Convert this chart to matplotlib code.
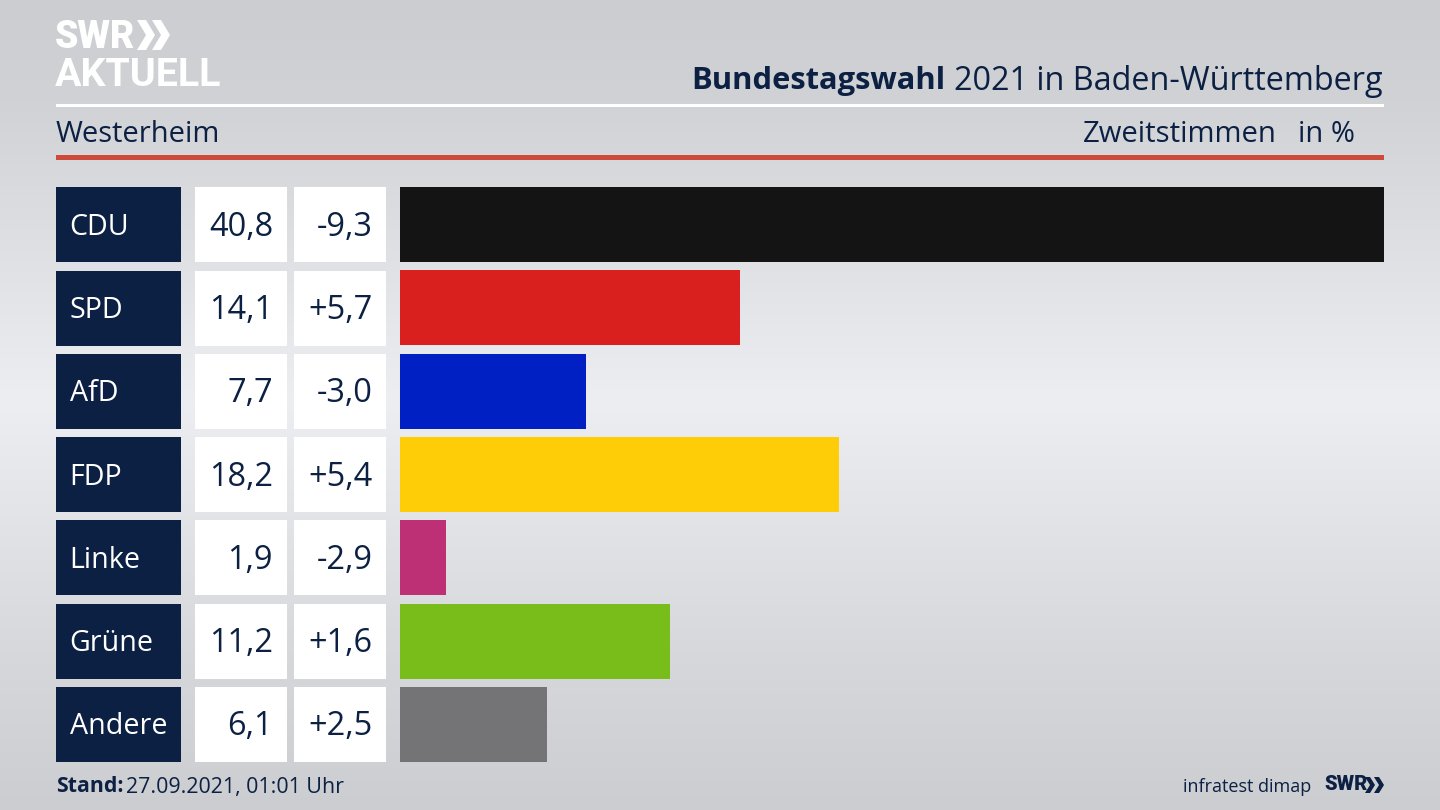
import numpy as np
import matplotlib
matplotlib.use("Agg")
import matplotlib.pyplot as plt
from matplotlib.patches import Rectangle, Polygon

parties = ["CDU", "SPD", "AfD", "FDP", "Linke", "Grüne", "Andere"]
shares = [40.8, 14.1, 7.7, 18.2, 1.9, 11.2, 6.1]
changes = ["-9,3", "+5,7", "-3,0", "+5,4", "-2,9", "+1,6", "+2,5"]
colors = ["#141414", "#d9201e", "#0020c4", "#ffcc08", "#bd3075", "#79bd1a", "#747476"]

NAVY = "#0b2042"
plt.rcParams["font.family"] = ["Open Sans", "DejaVu Sans"]


def chevrons(ax, xs, top, bottom, depth, thick, color):
    """Doppelpfeil vom SWR-Logo."""
    mid = (top + bottom) / 2
    for x0 in xs:
        ax.add_patch(Polygon(
            [(x0, top), (x0 + thick, top), (x0 + thick + depth, mid),
             (x0 + thick, bottom), (x0, bottom), (x0 + depth, mid)],
            facecolor=color, edgecolor="none", zorder=2))


fig = plt.figure(figsize=(14.4, 8.1), dpi=100)

# background, pixel coordinates
bg = fig.add_axes([0, 0, 1, 1])
bg.set_xlim(0, 1440)
bg.set_ylim(810, 0)
bg.axis("off")
grad_y = [0, 100, 400, 650, 810]
grad_c = [203, 208, 236, 214, 203]
column = np.interp(np.arange(810), grad_y, grad_c)
img = np.stack([column, column + 2, column + 5], axis=1)[:, None, :] / 255
bg.imshow(np.clip(img, 0, 1), extent=[0, 1440, 810, 0], aspect="auto", zorder=0)

# header lines
bg.add_patch(Rectangle((56, 104), 1328, 3, facecolor="white", edgecolor="none", zorder=1))
bg.add_patch(Rectangle((56, 155), 1328, 5, facecolor="#cc4b3a", edgecolor="none", zorder=1))

# logo
bg.text(55, 38, "SWR", color="white", fontsize=27, fontweight="black", va="center", family="Roboto")
bg.text(55, 75.5, "AKTUELL", color="white", fontsize=28.4, fontweight="bold", va="center", family="Roboto")
chevrons(bg, (137, 152), 20, 50, 9, 9, "white")

# title
bg.text(1383, 81, "2021 in Baden-Württemberg", color=NAVY, fontsize=23.3, ha="right", va="center")
bg.text(945, 81, "Bundestagswahl", color=NAVY, fontsize=22.2, fontweight="bold", ha="right", va="center")
bg.text(56, 135, "Westerheim", color=NAVY, fontsize=21, va="center")
bg.text(1277, 135, "Zweitstimmen", color=NAVY, fontsize=21.1, ha="right", va="center")
bg.text(1355, 135, "in %", color=NAVY, fontsize=21, ha="right", va="center")

# table cells
row_h = 75
for i, (party, share, change) in enumerate(zip(parties, shares, changes)):
    top = 187.3 + i * 83.25
    mid = top + row_h / 2 + 2.5
    bg.add_patch(Rectangle((56, top), 125, row_h, facecolor=NAVY, edgecolor="none", zorder=1))
    bg.add_patch(Rectangle((195, top), 92, row_h, facecolor="white", edgecolor="none", zorder=1))
    bg.add_patch(Rectangle((294, top), 92, row_h, facecolor="white", edgecolor="none", zorder=1))
    bg.text(69.5, mid, party, color="white", fontsize=20.6, va="center", zorder=2)
    bg.text(273, mid, f"{share:.1f}".replace(".", ","), color=NAVY, fontsize=23.4, ha="right", va="center", zorder=2)
    bg.text(372.5, mid, change, color=NAVY, fontsize=23.4, ha="right", va="center", zorder=2)

# bars
ax = fig.add_axes([400.3 / 1440, 1 - 762.1 / 810, 983.7 / 1440, 575 / 810])
ax.patch.set_alpha(0)
ax.barh(range(len(parties)), shares, height=75 / 83.25, color=colors, linewidth=0)
ax.set_xlim(0, max(shares))
ax.set_ylim(len(parties) - 0.5 + (75 / 83.25 - 1) / 2, -0.5 - (75 / 83.25 - 1) / 2)
ax.axis("off")

# footer
bg.text(56, 787, "Stand:", color=NAVY, fontsize=15.3, fontweight="bold", va="center")
bg.text(126, 787, "27.09.2021, 01:01 Uhr", color=NAVY, fontsize=15.4, va="center")
bg.text(1311, 787, "infratest dimap", color=NAVY, fontsize=13, ha="right", va="center")
bg.text(1324, 785, "SWR", color=NAVY, fontsize=14.5, fontweight="black", va="center", family="Roboto")
chevrons(bg, (1365, 1374), 777, 793, 5, 5, NAVY)

fig.savefig("out.png", dpi=100)
